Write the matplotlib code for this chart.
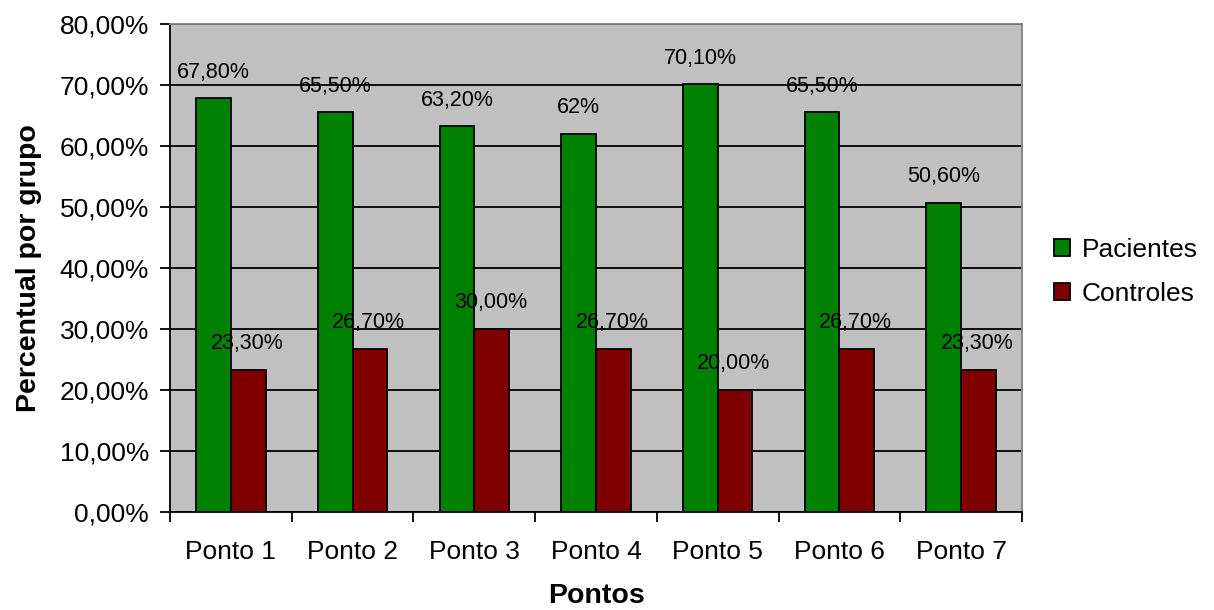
import numpy as np
import matplotlib.pyplot as plt
from matplotlib.ticker import FuncFormatter, FixedLocator

plt.rcParams['font.family'] = ['Liberation Sans', 'DejaVu Sans']

pontos = ['Ponto 1', 'Ponto 2', 'Ponto 3', 'Ponto 4', 'Ponto 5', 'Ponto 6', 'Ponto 7']
pacientes = [67.8, 65.5, 63.2, 62.0, 70.1, 65.5, 50.6]
controles = [23.3, 26.7, 30.0, 26.7, 20.0, 26.7, 23.3]
rotulos_pac = ['67,80%', '65,50%', '63,20%', '62%', '70,10%', '65,50%', '50,60%']
rotulos_con = ['23,30%', '26,70%', '30,00%', '26,70%', '20,00%', '26,70%', '23,30%']

fig = plt.figure(figsize=(12.14, 6.10), dpi=100)
ax = fig.add_axes([170 / 1214, 1 - 512 / 610, 852 / 1214, 488 / 610])
ax.set_facecolor('#c0c0c0')

x = np.arange(len(pontos))
w = 1 / 3.5
ax.bar(x - w / 2, pacientes, w, color='#008000', edgecolor='black', lw=1.3,
       label='Pacientes', zorder=3)
ax.bar(x + w / 2, controles, w, color='#800000', edgecolor='black', lw=1.3,
       label='Controles', zorder=3)

# rótulos de valor acima das barras
for xi, v, t in zip(x, pacientes, rotulos_pac):
    ax.annotate(t, (xi - w / 2, v), xytext=(0, 19), textcoords='offset points',
                ha='center', va='center', fontsize=15.5, zorder=4)
for xi, v, t in zip(x, controles, rotulos_con):
    ax.annotate(t, (xi + w / 2 - 0.01, v), xytext=(0, 19), textcoords='offset points',
                ha='center', va='center', fontsize=15.5, zorder=4)

ax.set_xlim(-0.5, len(pontos) - 0.5)
ax.set_ylim(0, 80)
ax.set_yticks(np.arange(0, 81, 10))
ax.yaxis.set_major_formatter(FuncFormatter(lambda v, p: f'{v:.2f}%'.replace('.', ',')))
ax.yaxis.grid(True, color='black', lw=1.3, zorder=1)
ax.set_axisbelow(True)

ax.set_xticks(x)
ax.set_xticklabels(pontos)
ax.xaxis.set_minor_locator(FixedLocator(np.arange(-0.5, len(pontos), 1)))
ax.tick_params(axis='x', which='major', length=0, labelsize=19, pad=20)
ax.tick_params(axis='x', which='minor', length=7, width=1.3, direction='out')
ax.tick_params(axis='y', length=7, width=1.3, labelsize=19, pad=8)

for s in ['top', 'right']:
    ax.spines[s].set_color('#808080')
    ax.spines[s].set_linewidth(1.3)
for s in ['left', 'bottom']:
    ax.spines[s].set_color('black')
    ax.spines[s].set_linewidth(1.3)

ax.set_ylabel('Percentual por grupo', fontsize=20.5, fontweight='bold', labelpad=13)
ax.set_xlabel('Pontos', fontsize=20.5, fontweight='bold', labelpad=14)

fig.legend(loc='center left', bbox_to_anchor=(1030 / 1214, 1 - 272 / 610),
           frameon=False, fontsize=19, handlelength=0.6, handleheight=0.6,
           handletextpad=0.45, labelspacing=0.75)

fig.savefig('out.png', dpi=100)
